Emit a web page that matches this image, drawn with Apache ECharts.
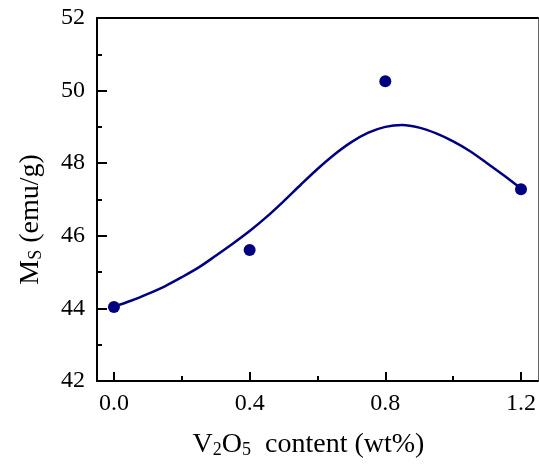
<!DOCTYPE html>
<html>
<head>
<meta charset="utf-8">
<script src="https://cdn.jsdelivr.net/npm/echarts@6/dist/echarts.min.js"></script>
<style>
  html, body { margin: 0; padding: 0; background: #fff; }
  #chart { width: 539px; height: 468px; }
</style>
</head>
<body>
<div id="chart"></div>
<script>
// 测量点
var xPoints = [0, 0.4, 0.8, 1.2]
var yPoints = [44.04, 45.61, 50.26, 47.28]
// 拟合曲线
var xCurve = [0, 0.05, 0.1, 0.15, 0.2, 0.25, 0.3, 0.35, 0.4, 0.45, 0.5, 0.55, 0.6,
  0.65, 0.7, 0.75, 0.8, 0.85, 0.9, 0.95, 1.0, 1.05, 1.1, 1.15, 1.2]
var yCurve = [44.05, 44.21, 44.40, 44.61, 44.86, 45.13, 45.45, 45.78, 46.13, 46.52, 46.95, 47.40, 47.84,
  48.24, 48.58, 48.84, 49.00, 49.05, 48.98, 48.82, 48.60, 48.33, 48.00, 47.66, 47.30]
// 刻度
var xLabelTicks = [0, 0.4, 0.8, 1.2]
var xMinorTicks = [0.2, 0.6, 1.0]

var font = 'Liberation Serif'
var navy = '#000080'

function pairs(xs, ys) {
  return xs.map(function (x, i) { return [x, ys[i]] })
}

var chart = echarts.init(document.getElementById('chart'))
var option = {
  animation: false,
  grid: { left: 97, right: 1, top: 18, bottom: 87 },
  xAxis: [
    {
      type: 'value', min: -0.05, max: 1.25, position: 'bottom',
      name: '{a|V}{s|2}{a|O}{s|5}{a|  content (wt%)}',
      nameLocation: 'middle', nameGap: 50,
      nameTextStyle: {
        padding: [0, 18, 0, 0],
        rich: {
          a: { fontFamily: font, fontSize: 28, color: '#000' },
          s: { fontFamily: font, fontSize: 18, color: '#000', verticalAlign: 'bottom', padding: [6, 0, 0, 0] }
        }
      },
      axisLine: { show: true, onZero: false, lineStyle: { color: '#000', width: 2 } },
      axisTick: { show: true, inside: true, length: 9, customValues: xLabelTicks, lineStyle: { color: '#000', width: 2 } },
      axisLabel: {
        customValues: xLabelTicks, margin: 11,
        fontFamily: font, fontSize: 24, color: '#000',
        formatter: function (v) { return v.toFixed(1) }
      },
      splitLine: { show: false }
    },
    {
      type: 'value', min: -0.05, max: 1.25, position: 'bottom',
      axisLine: { show: false },
      axisTick: { show: true, inside: true, length: 5, customValues: xMinorTicks, lineStyle: { color: '#000', width: 2 } },
      axisLabel: { show: false },
      splitLine: { show: false }
    },
    {
      type: 'value', min: -0.05, max: 1.25, position: 'top',
      axisLine: { show: true, onZero: false, lineStyle: { color: '#000', width: 2 } },
      axisTick: { show: false },
      axisLabel: { show: false },
      splitLine: { show: false }
    }
  ],
  yAxis: [
    {
      type: 'value', min: 42, max: 52, interval: 2, position: 'left',
      name: '{a|M}{s|S}{a| (emu/g)}',
      nameLocation: 'middle', nameGap: 52,
      nameTextStyle: {
        padding: [0, 40, 0, 0],
        rich: {
          a: { fontFamily: font, fontSize: 28, color: '#000' },
          s: { fontFamily: font, fontSize: 18, color: '#000', verticalAlign: 'bottom', padding: [6, 0, 0, 0] }
        }
      },
      axisLine: { show: true, onZero: false, lineStyle: { color: '#000', width: 2 } },
      axisTick: { show: true, inside: true, length: 10, lineStyle: { color: '#000', width: 2 } },
      minorTick: { show: true, splitNumber: 2, length: 5, lineStyle: { color: '#000', width: 2 } },
      axisLabel: { margin: 12, fontFamily: font, fontSize: 24, color: '#000' },
      splitLine: { show: false },
      minorSplitLine: { show: false }
    },
    {
      type: 'value', min: 42, max: 52, position: 'right',
      axisLine: { show: true, onZero: false, lineStyle: { color: '#666', width: 1 } },
      axisTick: { show: false },
      axisLabel: { show: false },
      splitLine: { show: false }
    }
  ],
  series: [
    {
      type: 'line',
      data: pairs(xCurve, yCurve),
      smooth: 0.3,
      showSymbol: false,
      lineStyle: { color: navy, width: 2.5 },
      z: 2
    },
    {
      type: 'scatter',
      data: pairs(xPoints, yPoints),
      symbol: 'circle',
      symbolSize: 12,
      itemStyle: { color: navy, opacity: 1 },
      z: 3
    }
  ]
}
chart.setOption(option)
</script>
</body>
</html>
